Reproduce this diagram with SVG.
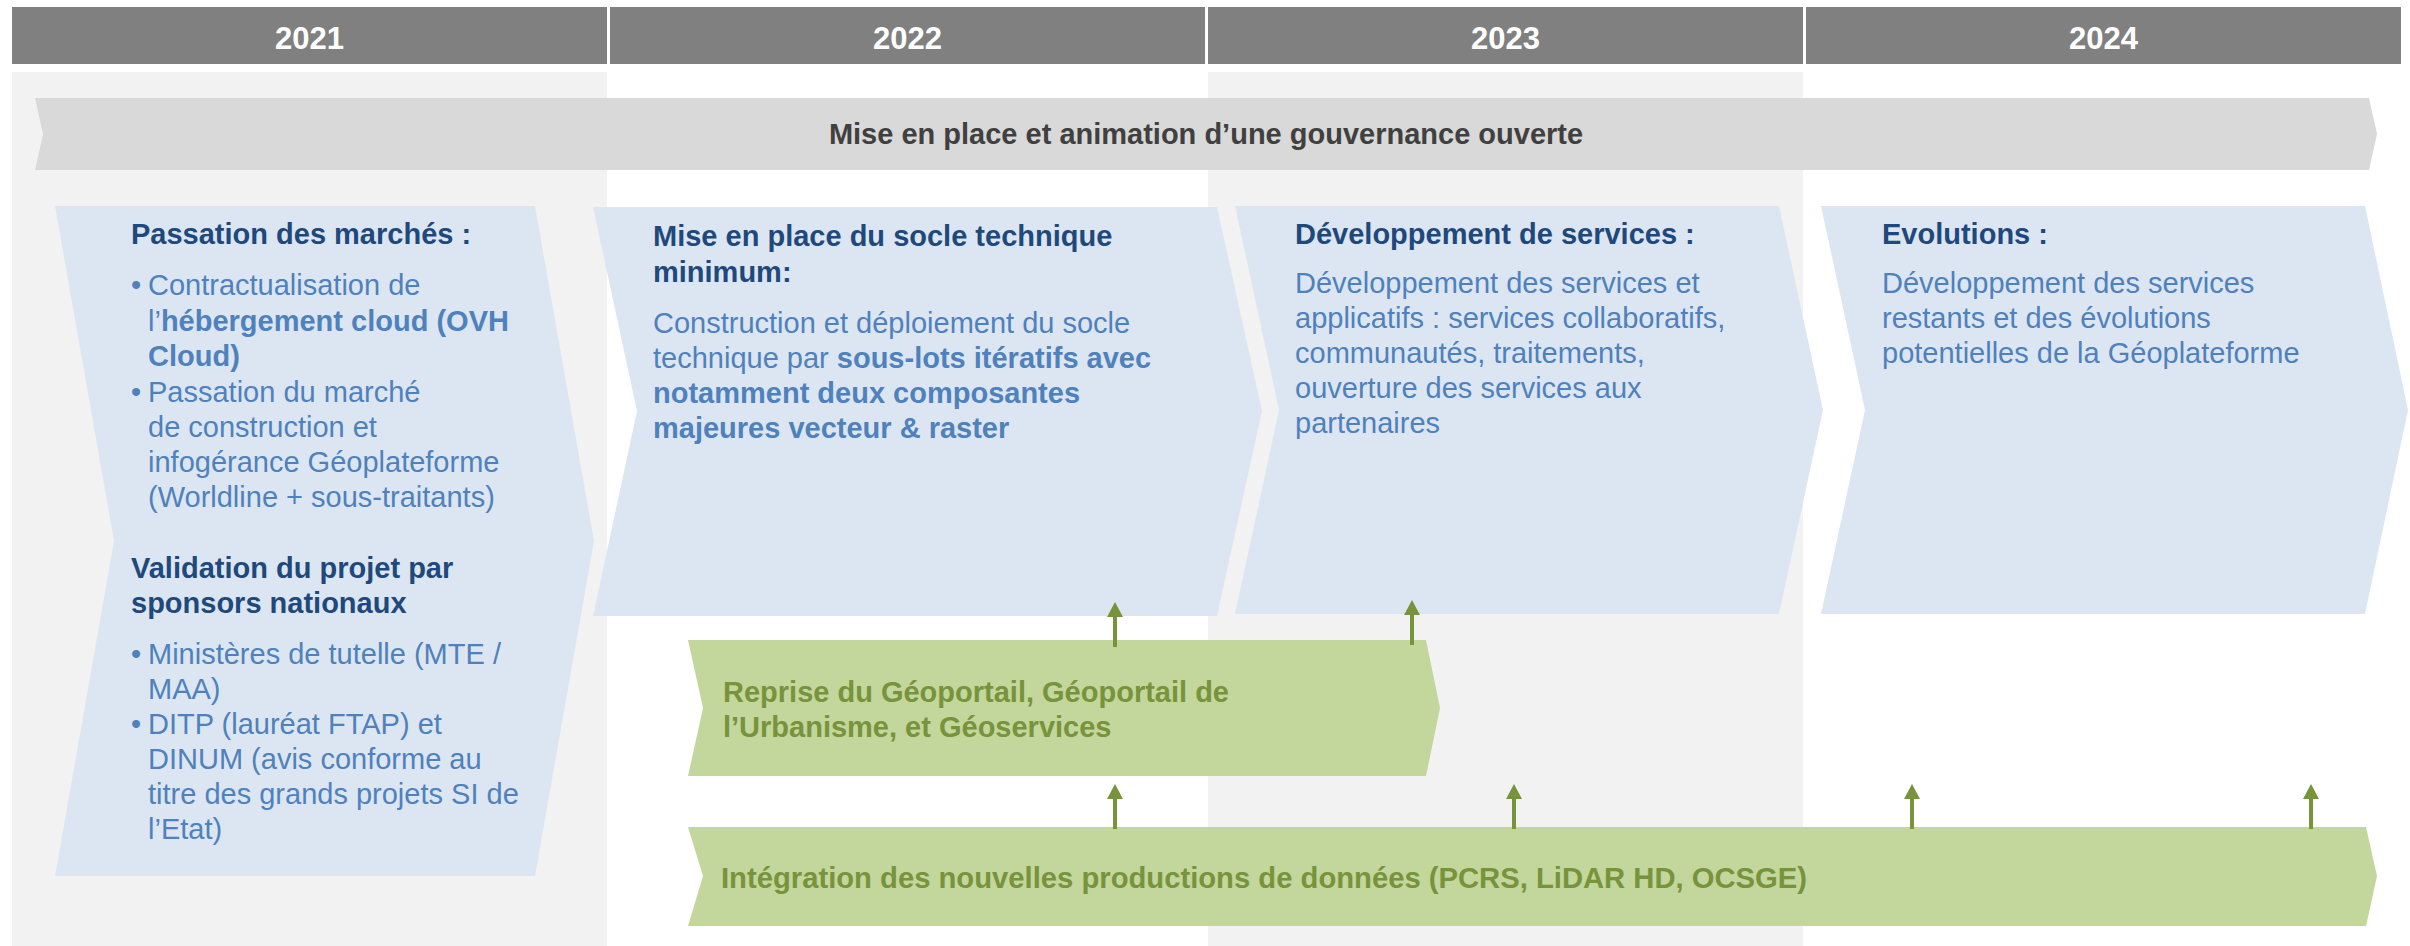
<svg xmlns="http://www.w3.org/2000/svg" width="2410" height="946" viewBox="0 0 2410 946">
<style>
text{font-family:"Liberation Sans",Arial,sans-serif;font-size:29px}
.yr{fill:#fff;font-weight:bold;font-size:31px;text-anchor:middle}
.hd{fill:#808080}
.band{fill:#f2f2f2}
.gov{fill:#d9d9d9}
.govt{fill:#404040;font-weight:bold;text-anchor:middle}
.chev{fill:#dce6f2}
.ttl{fill:#1f497d;font-weight:bold}
.body{fill:#4f81bd}
.b{font-weight:bold}
.grn{fill:#c3d69b}
.grt{fill:#77933c;font-weight:bold}
.arr{stroke:#77933c;stroke-width:4;fill:none;marker-end:url(#ah)}
</style>
<defs>
<marker id="ah" markerUnits="userSpaceOnUse" markerWidth="16" markerHeight="16" refX="0" refY="8" orient="auto" viewBox="0 0 16 16">
<path d="M0,0 L15,8 L0,16 Z" fill="#77933c"/>
</marker>
</defs>
<rect width="2410" height="946" fill="#fff"/>
<g id="backgrounds">
<rect class="band" x="12" y="72" width="595" height="874"/>
<rect class="band" x="1208" y="72" width="595" height="874"/>
</g>
<g id="headers">
<rect class="hd" x="12" y="7" width="595" height="57"/>
<rect class="hd" x="610" y="7" width="595" height="57"/>
<rect class="hd" x="1208" y="7" width="595" height="57"/>
<rect class="hd" x="1806" y="7" width="595" height="57"/>
<text class="yr" x="309.5" y="49">2021</text>
<text class="yr" x="907.5" y="49">2022</text>
<text class="yr" x="1505.5" y="49">2023</text>
<text class="yr" x="2103.5" y="49">2024</text>
</g>
<g id="gouvernance">
<path class="gov" d="M35,98 L2369,98 L2377,134 L2369,170 L35,170 L43,134 Z"/>
<text class="govt" x="1206" y="144">Mise en place et animation d’une gouvernance ouverte</text>
</g>
<g id="phase2021">
<path class="chev" d="M55,206 L535,206 L594,541 L535,876 L55,876 L114,541 Z"/>
<text class="ttl" x="131" y="244">Passation des marchés :</text>
<text class="body"><tspan x="131" y="295">•</tspan><tspan x="148" y="295">Contractualisation de</tspan><tspan x="148" y="331">l’<tspan class="b">hébergement cloud (OVH</tspan></tspan><tspan class="b" x="148" y="366">Cloud)</tspan><tspan x="131" y="402">•</tspan><tspan x="148" y="402">Passation du marché</tspan><tspan x="148" y="437">de construction et</tspan><tspan x="148" y="472">infogérance Géoplateforme</tspan><tspan x="148" y="507">(Worldline + sous-traitants)</tspan></text>
<text class="ttl"><tspan x="131" y="578">Validation du projet par</tspan><tspan x="131" y="613">sponsors nationaux</tspan></text>
<text class="body"><tspan x="131" y="664">•</tspan><tspan x="148" y="664">Ministères de tutelle (MTE /</tspan><tspan x="148" y="699">MAA)</tspan><tspan x="131" y="734">•</tspan><tspan x="148" y="734">DITP (lauréat FTAP) et</tspan><tspan x="148" y="769">DINUM (avis conforme au</tspan><tspan x="148" y="804">titre des grands projets SI de</tspan><tspan x="148" y="839">l’Etat)</tspan></text>
</g>
<g id="phase2022">
<path class="chev" d="M593,207 L1217,207 L1262,411 L1217,616 L593,616 L637,411 Z"/>
<text class="ttl"><tspan x="653" y="246">Mise en place du socle technique</tspan><tspan x="653" y="282">minimum:</tspan></text>
<text class="body"><tspan x="653" y="333">Construction et déploiement du socle</tspan><tspan x="653" y="368">technique par <tspan class="b">sous-lots itératifs avec</tspan></tspan><tspan class="b" x="653" y="403">notamment deux composantes</tspan><tspan class="b" x="653" y="438">majeures vecteur &amp; raster</tspan></text>
</g>
<g id="phase2023">
<path class="chev" d="M1235,206 L1779,206 L1823,410 L1779,614 L1235,614 L1279,410 Z"/>
<text class="ttl" x="1295" y="244">Développement de services :</text>
<text class="body"><tspan x="1295" y="293">Développement des services et</tspan><tspan x="1295" y="328">applicatifs : services collaboratifs,</tspan><tspan x="1295" y="363">communautés, traitements,</tspan><tspan x="1295" y="398">ouverture des services aux</tspan><tspan x="1295" y="433">partenaires</tspan></text>
</g>
<g id="phase2024">
<path class="chev" d="M1821,206 L2365,206 L2408,410 L2365,614 L1821,614 L1865,410 Z"/>
<text class="ttl" x="1882" y="244">Evolutions :</text>
<text class="body"><tspan x="1882" y="293">Développement des services</tspan><tspan x="1882" y="328">restants et des évolutions</tspan><tspan x="1882" y="363">potentielles de la Géoplateforme</tspan></text>
</g>
<g id="reprise">
<path class="grn" d="M688,640 L1426,640 L1440,708 L1426,776 L688,776 L703,708 Z"/>
<text class="grt"><tspan x="723" y="702">Reprise du Géoportail, Géoportail de</tspan><tspan x="723" y="737">l’Urbanisme, et Géoservices</tspan></text>
</g>
<g id="integration">
<path class="grn" d="M688,827 L2366,827 L2377,876 L2366,926 L688,926 L703,876 Z"/>
<text class="grt" x="721" y="888" textLength="1086" lengthAdjust="spacingAndGlyphs">Intégration des nouvelles productions de données (PCRS, LiDAR HD, OCSGE)</text>
</g>
<g id="connectors">
<line class="arr" x1="1115" y1="647" x2="1115" y2="617"/>
<line class="arr" x1="1412" y1="645" x2="1412" y2="615"/>
<line class="arr" x1="1115" y1="829" x2="1115" y2="799"/>
<line class="arr" x1="1514" y1="829" x2="1514" y2="799"/>
<line class="arr" x1="1912" y1="829" x2="1912" y2="799"/>
<line class="arr" x1="2311" y1="829" x2="2311" y2="799"/>
</g>
</svg>
